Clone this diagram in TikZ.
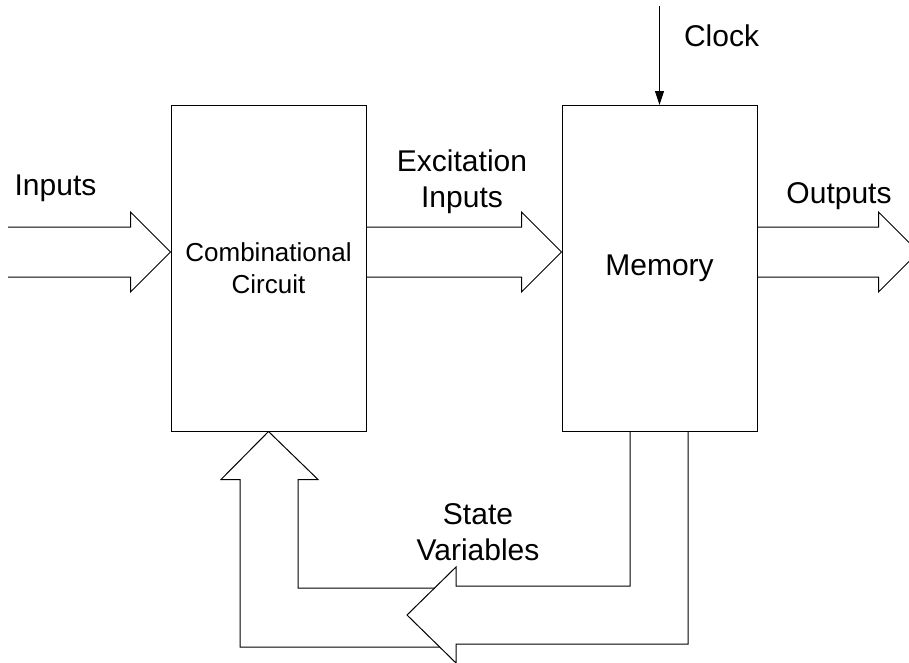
\documentclass[tikz,border=0pt]{standalone}
\usepackage{fontspec}
\setmainfont{Liberation Sans}
\usetikzlibrary{arrows.meta, calc}

% flecha de bus hacia la derecha, con la cola abierta
\newcommand{\busarrow}[2]{%
    \draw[wire] ($(#1)+(0,-25)$) -- ($(#2)+(-40,-25)$) -- ($(#2)+(-40,-40)$) -- (#2)
        -- ($(#2)+(-40,40)$) -- ($(#2)+(-40,25)$) -- ($(#1)+(0,25)$);%
}

\begin{document}
\begin{tikzpicture}[x=1pt, y=-1pt, >={Triangle[length=14pt, width=9pt]},
    block/.style={rectangle, draw, line width=1pt, minimum width=195pt, minimum height=326pt, inner sep=0pt, align=center},
    wire/.style={draw, line width=1pt, line join=miter},
    big/.style={font=\fontsize{30}{36}\selectfont, inner sep=0pt, align=center},
    small/.style={font=\fontsize{26}{32}\selectfont}
]
\useasboundingbox (0,0) rectangle (909,662);

% === Bloques ===
\node[block, small] (comb) at (268.5, 268) {Combinational\\Circuit};
\node[block, big, draw] (mem) at (659.5, 268.5) {Memory};

% === Reloj ===
\coordinate (clktop) at ($(mem.north)+(0,-99)$);
\draw[wire, ->] (clktop) -- (mem.north);
\node[big, anchor=north] (clock) at (721.5, 25) {Clock};

% === Flechas de bus horizontales ===
\coordinate (in0) at (8, 252);
\coordinate (in1) at (comb.west |- in0);
\coordinate (ex0) at (comb.east |- in0);
\coordinate (ex1) at (mem.west |- in0);
\coordinate (out0) at (mem.east |- in0);
\coordinate (out1) at ($(out0)+(161,0)$);

\busarrow{in0}{in1}
\busarrow{ex0}{ex1}
\busarrow{out0}{out1}

\node[big, anchor=north] (inlabel) at (55.5, 175) {Inputs};
\node[big, anchor=north] (exlabel) at (462, 150) {Excitation\\Inputs};
\node[big, anchor=north] (outlabel) at (839, 182.5) {Outputs};

% === Realimentacion: variables de estado ===
\coordinate (stip) at (407, 615);
\draw[wire] ($(mem.south)+(-29.5,0)$) |- ($(stip)+(49,-29)$) -- ($(stip)+(49,-48)$) -- (stip)
    -- ($(stip)+(49,48)$) -- ($(stip)+(49,29)$) -| ($(mem.south)+(28.5,0)$);
\draw[wire] ($(stip)+(27.6,-27)$) -| ($(comb.south)+(29.5,48)$) -- ++(20,0) -- (comb.south)
    -- ($(comb.south)+(-47.5,48)$) -- ++(19,0) |- ($(stip)+(32.7,32)$);

\node[big, anchor=north] (stlabel) at (478, 503) {State\\Variables};

\end{tikzpicture}
\end{document}
